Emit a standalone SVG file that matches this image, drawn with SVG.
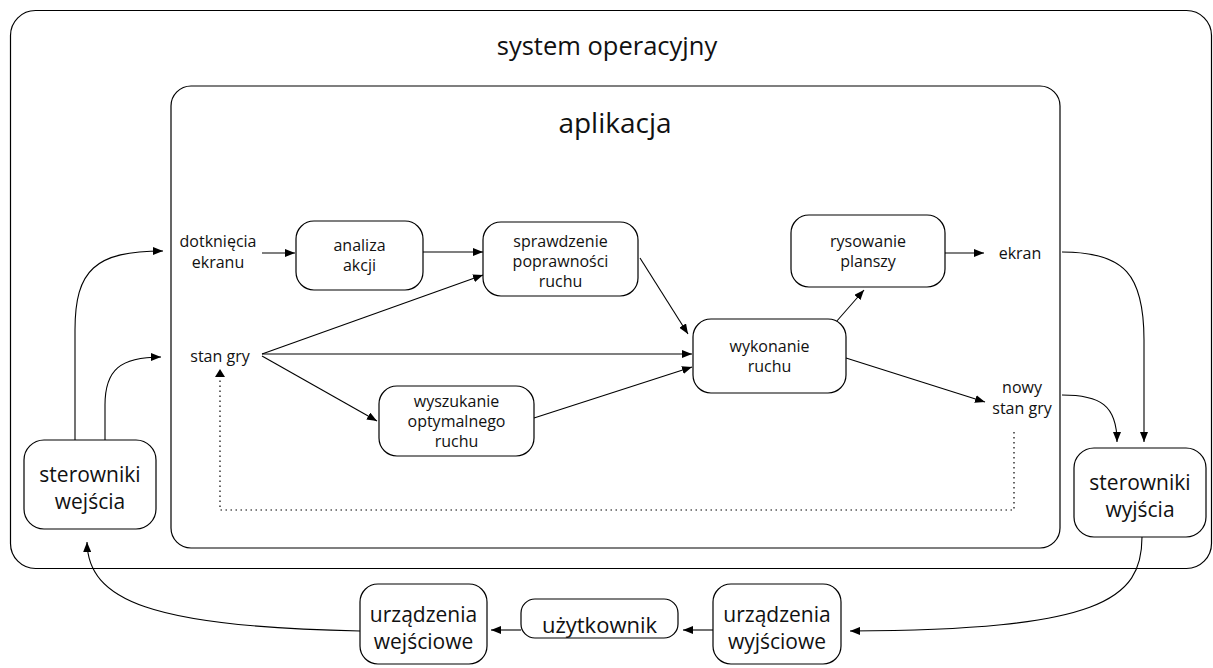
<svg xmlns="http://www.w3.org/2000/svg" width="1213" height="668" viewBox="0 0 1213 668">
<defs>
<marker id="ah" markerWidth="10" markerHeight="8" refX="10" refY="4" orient="auto" markerUnits="userSpaceOnUse">
<path d="M0,0 L10,4 L0,8 Z" fill="#000"/>
</marker>
</defs>
<style>
.box{fill:#fff;stroke:#000;stroke-width:1.2}
.cont{fill:none;stroke:#000;stroke-width:1.2}
.t{font-family:"Open Sans","Noto Sans",sans-serif;font-size:16px;fill:#111;text-anchor:middle}
.tb{font-family:"Open Sans","Noto Sans",sans-serif;font-size:21px;fill:#111;text-anchor:middle}
.tt{font-family:"Open Sans","Noto Sans",sans-serif;font-size:25.5px;fill:#111;text-anchor:middle}
.c{fill:none;stroke:#000;stroke-width:1.1}
.d{fill:none;stroke:#000;stroke-width:1.2;stroke-dasharray:1.5,3.5}
</style>
<rect width="1213" height="668" fill="#fff"/>
<g id="system">
<rect class="cont" x="10.5" y="10.5" width="1201" height="558" rx="25"/>
<text class="tt" x="607" y="55">system operacyjny</text>
</g>
<g id="aplikacja">
<rect class="cont" x="171" y="86" width="889" height="462" rx="20"/>
<text class="tt" x="615" y="133" style="font-size:28px">aplikacja</text>
</g>
<g id="connectors">
<path class="c" d="M262,253 L295,253" marker-end="url(#ah)"/>
<path class="c" d="M423,252 L483,252" marker-end="url(#ah)"/>
<path class="c" d="M262,354 L483,275" marker-end="url(#ah)"/>
<path class="c" d="M262,354 L692,354" marker-end="url(#ah)"/>
<path class="c" d="M262,356 L377,421" marker-end="url(#ah)"/>
<path class="c" d="M534,418 L692,367" marker-end="url(#ah)"/>
<path class="c" d="M640,258 L688,334" marker-end="url(#ah)"/>
<path class="c" d="M836,322 L864,290" marker-end="url(#ah)"/>
<path class="c" d="M945,253 L984,253" marker-end="url(#ah)"/>
<path class="c" d="M846,358 L985,402" marker-end="url(#ah)"/>
<path class="d" d="M1014,432 L1014,510 L220,510 L220,374"/>
<path d="M220,369 L215,377 L225,377 Z" fill="#000"/>
<path class="c" d="M75,440 L75,330 C75,270 95,251 163,251" marker-end="url(#ah)"/>
<path class="c" d="M105,440 L105,405 C105,370 120,357 161,357" marker-end="url(#ah)"/>
<path class="c" d="M1062,252 C1125,252 1144,275 1144,340 L1144,442" marker-end="url(#ah)"/>
<path class="c" d="M1062,395 C1100,395 1117,405 1117,442" marker-end="url(#ah)"/>
<path class="c" d="M1142,537 C1142,600 1100,630 850,631" marker-end="url(#ah)"/>
<path class="c" d="M713,630 L683,630" marker-end="url(#ah)"/>
<path class="c" d="M521,630 L491,630" marker-end="url(#ah)"/>
<path class="c" d="M360,631 C150,627 88,600 87,542" marker-end="url(#ah)"/>
</g>
<g id="dotkniecia">
<text class="t" x="218" y="247">dotknięcia</text>
<text class="t" x="218" y="268">ekranu</text>
</g>
<g id="stangry">
<text class="t" x="220" y="362">stan gry</text>
</g>
<g id="ekran">
<text class="t" x="1020" y="259">ekran</text>
</g>
<g id="nowystangry">
<text class="t" x="1022" y="393">nowy</text>
<text class="t" x="1022" y="414">stan gry</text>
</g>
<g id="analiza">
<rect class="box" x="296" y="221" width="127" height="69" rx="18"/>
<text class="t" x="359.5" y="251">analiza</text>
<text class="t" x="359.5" y="271">akcji</text>
</g>
<g id="sprawdzenie">
<rect class="box" x="483" y="222" width="155" height="74" rx="18"/>
<text class="t" x="560.5" y="247">sprawdzenie</text>
<text class="t" x="560.5" y="267">poprawności</text>
<text class="t" x="560.5" y="287">ruchu</text>
</g>
<g id="rysowanie">
<rect class="box" x="791" y="215" width="154" height="72" rx="18"/>
<text class="t" x="868" y="247">rysowanie</text>
<text class="t" x="868" y="267">planszy</text>
</g>
<g id="wykonanie">
<rect class="box" x="693" y="319" width="153" height="74" rx="18"/>
<text class="t" x="769.5" y="352">wykonanie</text>
<text class="t" x="769.5" y="372">ruchu</text>
</g>
<g id="wyszukanie">
<rect class="box" x="379" y="386" width="155" height="70" rx="18"/>
<text class="t" x="456.5" y="407">wyszukanie</text>
<text class="t" x="456.5" y="427">optymalnego</text>
<text class="t" x="456.5" y="447">ruchu</text>
</g>
<g id="sterwej">
<rect class="box" x="24" y="440" width="132" height="89" rx="20"/>
<text class="tb" x="90" y="482">sterowniki</text>
<text class="tb" x="90" y="509">wejścia</text>
</g>
<g id="sterwyj">
<rect class="box" x="1074" y="448" width="132" height="89" rx="20"/>
<text class="tb" x="1140" y="490">sterowniki</text>
<text class="tb" x="1140" y="517">wyjścia</text>
</g>
<g id="urzwej">
<rect class="box" x="360" y="584" width="127" height="80" rx="18"/>
<text class="tb" x="423.5" y="622">urządzenia</text>
<text class="tb" x="423.5" y="649">wejściowe</text>
</g>
<g id="uzytkownik">
<rect class="box" x="521" y="599" width="157" height="39" rx="14"/>
<text class="tb" x="599.5" y="633" style="font-size:22px">użytkownik</text>
</g>
<g id="urzwyj">
<rect class="box" x="713" y="584" width="128" height="80" rx="18"/>
<text class="tb" x="777" y="622">urządzenia</text>
<text class="tb" x="777" y="649">wyjściowe</text>
</g>
</svg>
